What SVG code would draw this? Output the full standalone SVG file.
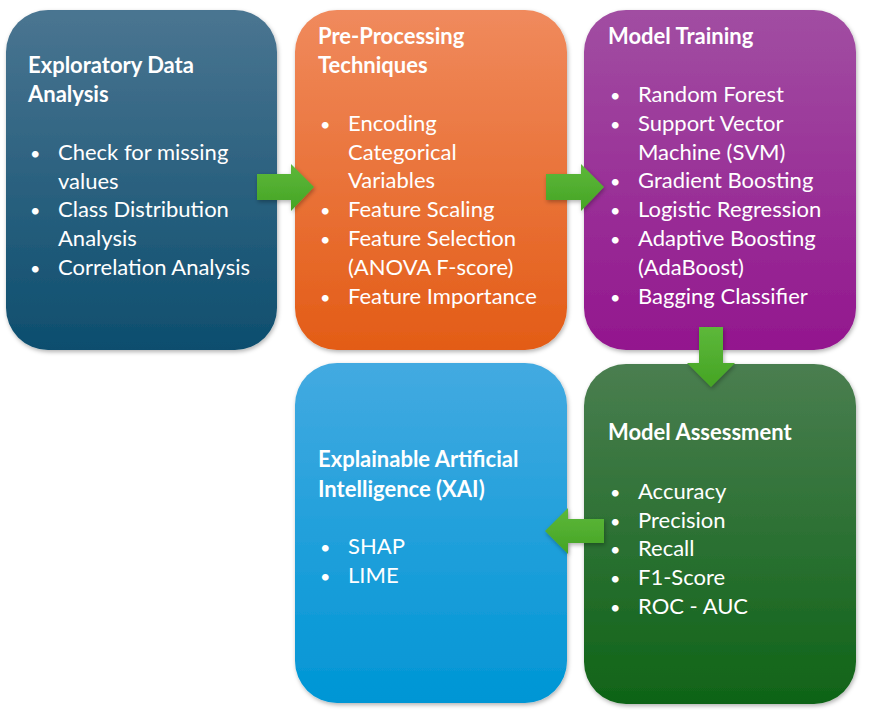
<svg xmlns="http://www.w3.org/2000/svg" width="869" height="710" viewBox="0 0 869 710">
<defs>
<linearGradient id="g1" x1="0" y1="0" x2="0" y2="1"><stop offset="0" stop-color="#4a7591"/><stop offset="1" stop-color="#0d4e6e"/></linearGradient>
<linearGradient id="g2" x1="0" y1="0" x2="0" y2="1"><stop offset="0" stop-color="#f08a5d"/><stop offset="1" stop-color="#e35c16"/></linearGradient>
<linearGradient id="g3" x1="0" y1="0" x2="0" y2="1"><stop offset="0" stop-color="#a14ea2"/><stop offset="1" stop-color="#93168e"/></linearGradient>
<linearGradient id="g4" x1="0" y1="0" x2="0" y2="1"><stop offset="0" stop-color="#4a7e50"/><stop offset="1" stop-color="#0f6417"/></linearGradient>
<linearGradient id="g5" x1="0" y1="0" x2="0" y2="1"><stop offset="0" stop-color="#43aae1"/><stop offset="1" stop-color="#0096d5"/></linearGradient>
<linearGradient id="ga" x1="0" y1="0" x2="0" y2="1"><stop offset="0" stop-color="#5db83a"/><stop offset="1" stop-color="#45a424"/></linearGradient>
<filter id="sh" x="-10%" y="-10%" width="120%" height="120%"><feDropShadow dx="1" dy="2" stdDeviation="2" flood-color="#000" flood-opacity="0.3"/></filter>
</defs>
<style>
.t{font-family:Lato,"Open Sans",sans-serif;font-size:22px;fill:#fff}
.h{font-weight:bold;font-size:22px}
.b{font-size:18px}
</style>
<g id="eda">
<rect x="6" y="10" width="271" height="340" rx="42" fill="url(#g1)" filter="url(#sh)"/>
<text class="t h" x="28" y="73">Exploratory Data</text>
<text class="t h" x="28" y="102">Analysis</text>
<text class="t b" x="30" y="160">•</text><text class="t" x="58" y="160">Check for missing</text>
<text class="t" x="58" y="189">values</text>
<text class="t b" x="30" y="217">•</text><text class="t" x="58" y="217">Class Distribution</text>
<text class="t" x="58" y="246">Analysis</text>
<text class="t b" x="30" y="275">•</text><text class="t" x="58" y="275">Correlation Analysis</text>
</g>
<g id="prep">
<rect x="295" y="10" width="272" height="340" rx="42" fill="url(#g2)" filter="url(#sh)"/>
<text class="t h" x="318" y="44">Pre-Processing</text>
<text class="t h" x="318" y="73">Techniques</text>
<text class="t b" x="320" y="131">•</text><text class="t" x="348" y="131">Encoding</text>
<text class="t" x="348" y="160">Categorical</text>
<text class="t" x="348" y="188">Variables</text>
<text class="t b" x="320" y="217">•</text><text class="t" x="348" y="217">Feature Scaling</text>
<text class="t b" x="320" y="246">•</text><text class="t" x="348" y="246">Feature Selection</text>
<text class="t" x="348" y="275">(ANOVA F-score)</text>
<text class="t b" x="320" y="304">•</text><text class="t" x="348" y="304">Feature Importance</text>
</g>
<g id="train">
<rect x="584" y="10" width="272" height="340" rx="42" fill="url(#g3)" filter="url(#sh)"/>
<text class="t h" x="608" y="44">Model Training</text>
<text class="t b" x="610" y="102">•</text><text class="t" x="638" y="102">Random Forest</text>
<text class="t b" x="610" y="131">•</text><text class="t" x="638" y="131">Support Vector</text>
<text class="t" x="638" y="160">Machine (SVM)</text>
<text class="t b" x="610" y="188">•</text><text class="t" x="638" y="188">Gradient Boosting</text>
<text class="t b" x="610" y="217">•</text><text class="t" x="638" y="217">Logistic Regression</text>
<text class="t b" x="610" y="246">•</text><text class="t" x="638" y="246">Adaptive Boosting</text>
<text class="t" x="638" y="275">(AdaBoost)</text>
<text class="t b" x="610" y="304">•</text><text class="t" x="638" y="304">Bagging Classifier</text>
</g>
<g id="assess">
<rect x="584" y="364" width="272" height="340" rx="42" fill="url(#g4)" filter="url(#sh)"/>
<text class="t h" x="608" y="440">Model Assessment</text>
<text class="t b" x="610" y="499">•</text><text class="t" x="638" y="499">Accuracy</text>
<text class="t b" x="610" y="528">•</text><text class="t" x="638" y="528">Precision</text>
<text class="t b" x="610" y="556">•</text><text class="t" x="638" y="556">Recall</text>
<text class="t b" x="610" y="585">•</text><text class="t" x="638" y="585">F1-Score</text>
<text class="t b" x="610" y="614">•</text><text class="t" x="638" y="614">ROC - AUC</text>
</g>
<g id="xai">
<rect x="295" y="363" width="272" height="340" rx="42" fill="url(#g5)" filter="url(#sh)"/>
<text class="t h" x="318" y="467">Explainable Artificial</text>
<text class="t h" x="318" y="497">Intelligence (XAI)</text>
<text class="t b" x="320" y="554">•</text><text class="t" x="348" y="554">SHAP</text>
<text class="t b" x="320" y="583">•</text><text class="t" x="348" y="583">LIME</text>
</g>
<g id="connectors" fill="url(#ga)" filter="url(#sh)">
<polygon points="257,174 291,174 291,164 314,187 291,211 291,200 257,200"/>
<polygon points="546,174 581,174 581,164 604,187 581,211 581,200 546,200"/>
<polygon points="699,327 723,327 723,363 735,363 711,387 687,363 699,363"/>
<polygon points="604,519 568,519 568,508 545,531 568,554 568,543 604,543"/>
</g>
</svg>
